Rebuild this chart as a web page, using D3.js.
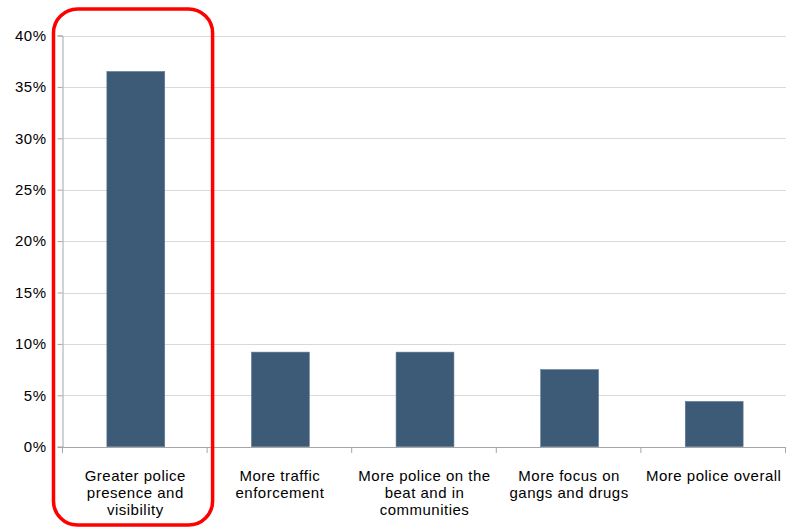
<!DOCTYPE html>
<html>
<head>
<meta charset="utf-8">
<script src="https://cdn.jsdelivr.net/npm/d3@7"></script>
<style>
  body { margin: 0; background: #fff; }
  svg { display: block; font-family: "Liberation Sans", Arial, sans-serif; }
</style>
</head>
<body>
<svg id="chart" width="787" height="528"></svg>
<script>
// Survey responses: share of respondents naming each policing priority
const categories = [
  ["Greater police", "presence and", "visibility"],
  ["More traffic", "enforcement"],
  ["More police on the", "beat and in", "communities"],
  ["More focus on", "gangs and drugs"],
  ["More police overall"]
];
const values = [36.5, 9.2, 9.2, 7.5, 4.4];
const yTicks = [0, 5, 10, 15, 20, 25, 30, 35, 40];
const highlighted = 0; // index of the category framed in red

const svg = d3.select("#chart");
const margin = { left: 63, right: 1, top: 35.5, bottom: 81.3 };
const W = 787, H = 528;

const x = d3.scaleBand()
  .domain(d3.range(categories.length))
  .range([margin.left, W - margin.right])
  .paddingInner(0).paddingOuter(0);

const y = d3.scaleLinear()
  .domain([0, 40])
  .range([H - margin.bottom, margin.top]);

// horizontal gridlines
svg.append("g")
  .selectAll("line")
  .data(yTicks.filter(t => t > 0))
  .join("line")
  .attr("x1", margin.left)
  .attr("x2", W - margin.right)
  .attr("y1", d => Math.round(y(d)) + 0.5)
  .attr("y2", d => Math.round(y(d)) + 0.5)
  .attr("stroke", "#d9d9d9")
  .attr("stroke-width", 1);

// bars
const barW = x.bandwidth() * 0.4;
svg.append("g")
  .selectAll("rect")
  .data(values)
  .join("rect")
  .attr("x", (d, i) => x(i) + (x.bandwidth() - barW) / 2 + 0.5)
  .attr("width", barW)
  .attr("y", d => y(d))
  .attr("height", d => y(0) - y(d))
  .attr("fill", "#3d5b77")
  .attr("stroke", "#5d7892")
  .attr("stroke-width", 0.6);

// y axis
const yAxis = d3.axisLeft(y)
  .tickValues(yTicks)
  .tickFormat(d => d + "%")
  .tickSize(5)
  .tickPadding(11);
const gy = svg.append("g")
  .attr("transform", `translate(${margin.left - 0.5},0)`)
  .call(yAxis);
gy.select(".domain").attr("stroke", "#a6a6a6");
gy.selectAll(".tick line").attr("stroke", "#a6a6a6");
gy.selectAll(".tick text")
  .attr("fill", "#000")
  .style("font-size", "15px")
  .style("letter-spacing", "0.5px")
  .style("font-family", "'Liberation Sans', Arial, sans-serif");

// x axis baseline with category boundary ticks
const gx = svg.append("g");
gx.append("line")
  .attr("x1", margin.left - 5)
  .attr("x2", W - margin.right)
  .attr("y1", Math.round(y(0)) + 0.5)
  .attr("y2", Math.round(y(0)) + 0.5)
  .attr("stroke", "#a6a6a6");
gx.selectAll("line.b")
  .data(d3.range(categories.length + 1))
  .join("line")
  .attr("class", "b")
  .attr("x1", i => (i < categories.length ? x(i) : W - margin.right) - 0.5)
  .attr("x2", i => (i < categories.length ? x(i) : W - margin.right) - 0.5)
  .attr("y1", Math.round(y(0)))
  .attr("y2", Math.round(y(0)) + 6)
  .attr("stroke", "#a6a6a6");

// category labels
const labels = svg.append("g")
  .selectAll("text")
  .data(categories)
  .join("text")
  .attr("text-anchor", "middle")
  .attr("x", (d, i) => x(i) + x.bandwidth() / 2)
  .attr("y", 480.5)
  .attr("fill", "#000")
  .style("font-size", "15px")
  .style("letter-spacing", "0.5px");
labels.selectAll("tspan")
  .data(d => d)
  .join("tspan")
  .attr("x", function () { return d3.select(this.parentNode).attr("x"); })
  .attr("dy", (d, i) => i === 0 ? 0 : 17)
  .text(d => d);

// red frame around the highlighted category
const fx0 = x(highlighted) - 9.5;
const fx1 = x(highlighted) + x.bandwidth() + 5;
svg.append("rect")
  .attr("x", fx0)
  .attr("y", 9)
  .attr("width", fx1 - fx0)
  .attr("height", 516)
  .attr("rx", 24)
  .attr("ry", 24)
  .attr("fill", "none")
  .attr("stroke", "#ff0000")
  .attr("stroke-width", 3.5);
</script>
</body>
</html>
